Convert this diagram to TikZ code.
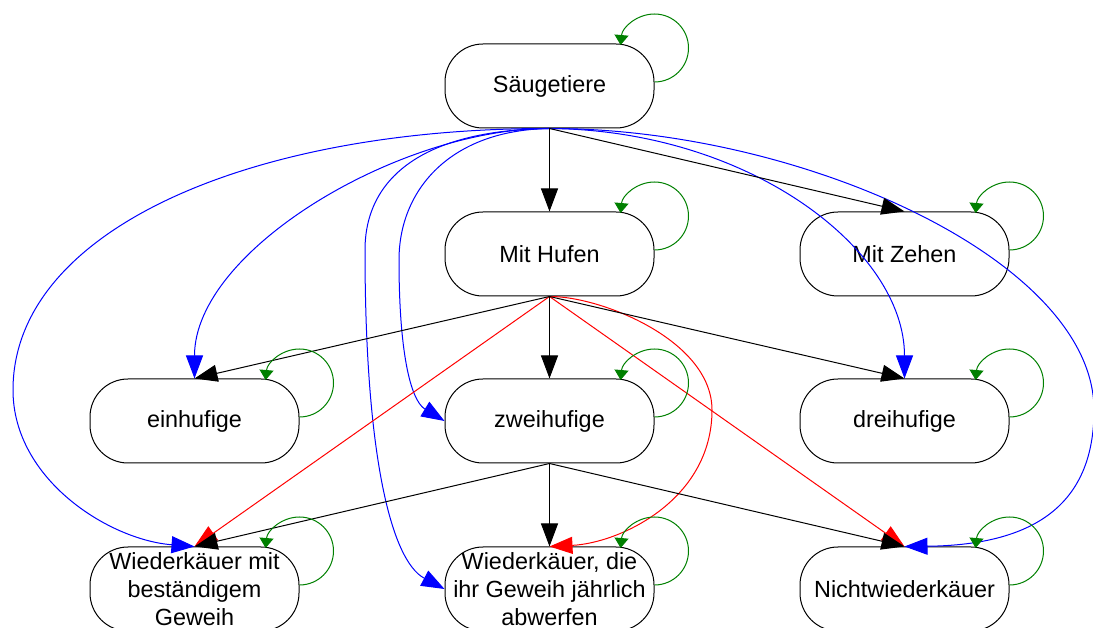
\documentclass[tikz,border=0pt]{standalone}
\usepackage{fontspec}
\setmainfont{Liberation Sans}
\usetikzlibrary{arrows.meta}
\definecolor{loopgreen}{RGB}{0,128,0}
\tikzset{
	box/.style={draw, line width=0.5pt, rounded corners=19pt, minimum width=104.5pt,
		minimum height=42pt, inner sep=0pt, align=center, font=\fontsize{11.7}{14}\selectfont},
	tree/.style={line width=0.5pt, -{Triangle[length=11.5pt,width=8.5pt]}},
	blueedge/.style={tree, blue},
	rededge/.style={tree, red},
	selfloop/.style={line width=0.5pt, loopgreen, -{Triangle[length=5pt,width=7pt]}}
}
\begin{document}
\begin{tikzpicture}[x=0.5pt, y=0.5pt]
\useasboundingbox (0,0) rectangle (1093,627);
	% the nodes
	\node[box] (s)  at (549.5, 541) {Säugetiere};
	\node[box] (mh) at (549.5, 373) {Mit Hufen};
	\node[box] (mz) at (904.5, 373) {Mit Zehen};
	\node[box] (eh) at (194.5, 206) {einhufige};
	\node[box] (zh) at (549.5, 206) {zweihufige};
	\node[box] (dh) at (904.5, 206) {dreihufige};
	\node[box] (wm) at (194.5, 38) {Wiederkäuer mit\\beständigem\\Geweih};
	\node[box] (wd) at (549.5, 38) {Wiederkäuer, die\\ihr Geweih jährlich\\abwerfen};
	\node[box] (nw) at (904.5, 38) {Nichtwiederkäuer};
	% blue curves
	\draw[blueedge] (s.south) .. controls (250,499) and (13,397) .. (13,237)
		.. controls (13,147) and (110,87) .. (wm.north);
	\draw[blueedge] (s.south) .. controls (400,499) and (194.5,377) .. (eh.north);
	\draw[blueedge] (s.south) .. controls (420,497) and (365,447) .. (365,377)
		.. controls (365,177) and (390,67) .. (wd.west);
	\draw[blueedge] (s.south) .. controls (450,497) and (399,437) .. (399,367)
		.. controls (399,277) and (410,227) .. (zh.west);
	\draw[blueedge] (s.south) .. controls (750,497) and (904.5,377) .. (dh.north);
	\draw[blueedge] (s.south) .. controls (800,499) and (1094,367) .. (1094,217)
		.. controls (1094,127) and (1040,82) .. (nw.north);
	% red edges
	\draw[rededge] (mh.south) -- (wm.north);
	\draw[rededge] (mh.south) -- (nw.north);
	\draw[rededge] (mh.south) .. controls (600,331) and (712,287) .. (712,217)
		.. controls (712,127) and (620,84) .. (wd.north);
	% black tree
	\draw[tree] (s.south) -- (mh.north);
	\draw[tree] (s.south) -- (mz.north);
	\foreach \t in {eh,zh,dh}
		\draw[tree] (mh.south) -- (\t.north);
	\foreach \t in {wm,wd,nw}
		\draw[tree] (zh.south) -- (\t.north);
	% self loops
	\foreach \n in {s,mh,mz,eh,zh,dh,wm,wd,nw}
		\draw[selfloop] ([yshift=2pt]\n.east) arc[start angle=-90, end angle=175, radius=17pt];
\end{tikzpicture}
\end{document}
